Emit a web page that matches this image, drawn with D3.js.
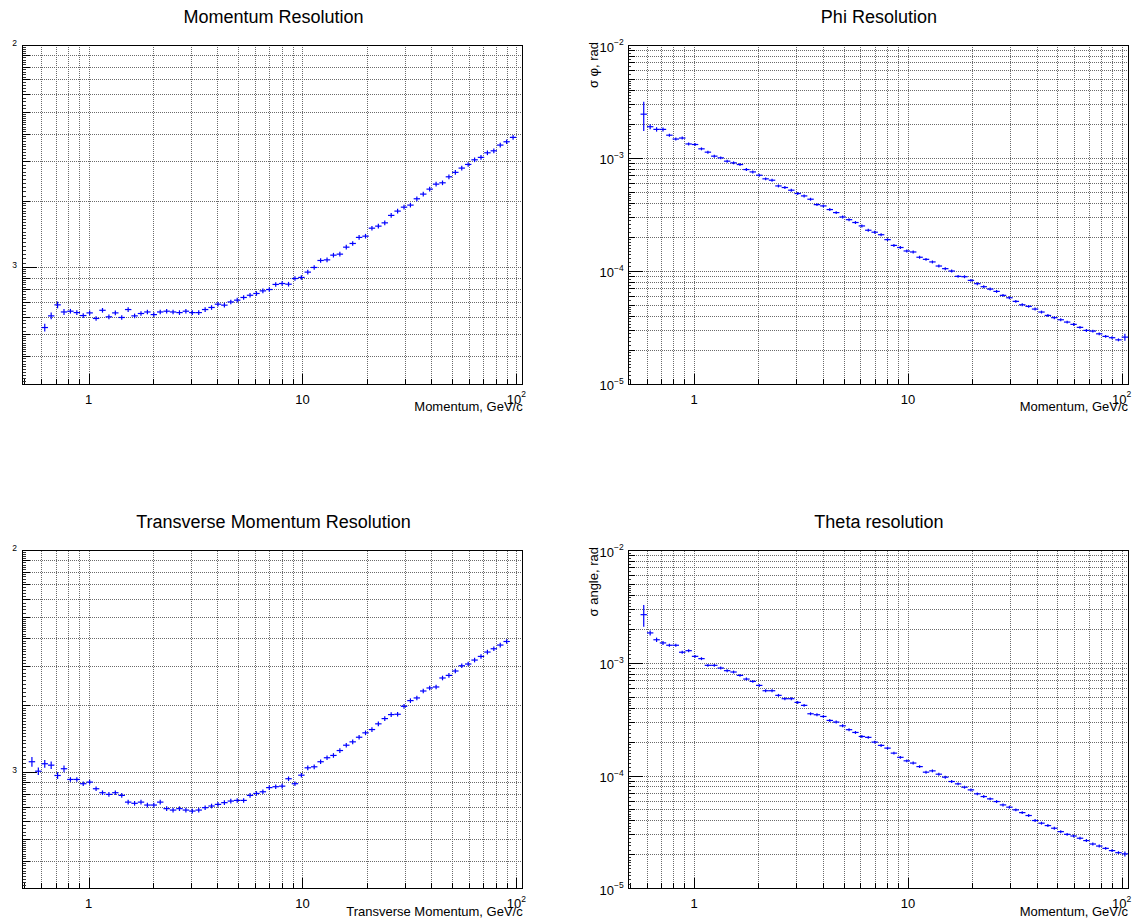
<!DOCTYPE html>
<html>
<head>
<meta charset="utf-8">
<script src="https://cdn.jsdelivr.net/npm/d3@7"></script>
<style>
  html, body { margin: 0; padding: 0; background: #ffffff; }
  svg { display: block; }
  text { font-family: "Liberation Sans", Arial, Helvetica, sans-serif; fill: #000; }
</style>
</head>
<body>
<svg id="canvas" width="1136" height="923"></svg>
<script>
// ---------------- binning (log-spaced histogram bins) ----------------
const nBins = 78;
const binLo = 0.4891;
const binHi = 107.15;

// ---------------- titles / labels ----------------
const titles = ["Momentum Resolution", "Phi Resolution", "Transverse Momentum Resolution", "Theta resolution"];
const xTitles = ["Momentum, GeV/c", "Momentum, GeV/c", "Transverse Momentum, GeV/c", "Momentum, GeV/c"];
const yTitles = [null, "\u03c3 \u03c6, rad", null, "\u03c3 angle, rad"];
const xTickLabels = [
  { v: 1, base: "1", sup: "" },
  { v: 10, base: "10", sup: "" },
  { v: 100, base: "10", sup: "2" }
];
const yTickLabelsLeft = [ { v: 1e-2, sup: "2" }, { v: 1e-3, sup: "3" } ];
const yTickLabelsRight = [
  { v: 1e-2, base: "10", sup: "\u22122" },
  { v: 1e-3, base: "10", sup: "\u22123" },
  { v: 1e-4, base: "10", sup: "\u22124" },
  { v: 1e-5, base: "10", sup: "\u22125" }
];

// ---------------- data: Momentum Resolution (first filled bin = 3) ----------------
const momFirstBin = 3;
const momRes = [
  5.37e-4, 6.06e-4, 6.79e-4, 6.31e-4, 6.36e-4, 6.27e-4, 6.08e-4, 6.25e-4, 5.90e-4, 6.42e-4,
  6.00e-4, 6.25e-4, 5.96e-4, 6.47e-4, 6.06e-4, 6.21e-4, 6.31e-4, 6.14e-4, 6.31e-4, 6.36e-4,
  6.31e-4, 6.27e-4, 6.36e-4, 6.27e-4, 6.27e-4, 6.47e-4, 6.61e-4, 6.84e-4, 6.77e-4, 7.00e-4,
  7.13e-4, 7.33e-4, 7.50e-4, 7.64e-4, 7.85e-4, 7.96e-4, 8.39e-4, 8.47e-4, 8.41e-4, 8.92e-4,
  9.02e-4, 9.53e-4, 1.000e-3, 1.075e-3, 1.082e-3, 1.136e-3, 1.148e-3, 1.234e-3, 1.282e-3, 1.365e-3,
  1.383e-3, 1.502e-3, 1.534e-3, 1.587e-3, 1.714e-3, 1.792e-3, 1.867e-3, 1.907e-3, 2.036e-3, 2.137e-3,
  2.250e-3, 2.369e-3, 2.402e-3, 2.556e-3, 2.676e-3, 2.797e-3, 2.905e-3, 3.048e-3, 3.125e-3, 3.277e-3,
  3.345e-3, 3.549e-3, 3.673e-3, 3.844e-3
];
const momErrLead = [0.04, 0.035, 0.035, 0.03];
const momErrRest = 0.024;
const momErrTail = [];

// ---------------- data: Phi Resolution (first filled bin = 2) ----------------
const phiFirstBin = 2;
const phiRes = [
  2.44e-3, 1.89e-3, 1.79e-3, 1.79e-3, 1.59e-3, 1.47e-3, 1.50e-3, 1.33e-3, 1.315e-3, 1.204e-3,
  1.125e-3, 1.037e-3, 1.002e-3, 9.36e-4, 9.05e-4, 8.74e-4, 7.89e-4, 7.52e-4, 7.03e-4, 6.53e-4,
  6.35e-4, 5.65e-4, 5.47e-4, 5.18e-4, 4.84e-4, 4.61e-4, 4.31e-4, 3.86e-4, 3.76e-4, 3.49e-4,
  3.28e-4, 3.00e-4, 2.84e-4, 2.68e-4, 2.50e-4, 2.29e-4, 2.20e-4, 2.09e-4, 1.89e-4, 1.68e-4,
  1.61e-4, 1.50e-4, 1.47e-4, 1.32e-4, 1.265e-4, 1.20e-4, 1.104e-4, 1.046e-4, 9.97e-5, 8.94e-5,
  8.88e-5, 8.24e-5, 7.70e-5, 7.24e-5, 6.90e-5, 6.58e-5, 6.07e-5, 5.78e-5, 5.37e-5, 5.01e-5,
  4.85e-5, 4.59e-5, 4.32e-5, 4.03e-5, 3.85e-5, 3.69e-5, 3.52e-5, 3.36e-5, 3.16e-5, 2.97e-5,
  2.93e-5, 2.77e-5, 2.63e-5, 2.56e-5, 2.45e-5, 2.59e-5
];
const phiErrLead = [0.29, 0.05, 0.045, 0.04];
const phiErrRest = 0.03;
const phiErrTail = [0.07];

// ---------------- data: Transverse Momentum Resolution (first filled bin = 1) ----------------
const ptFirstBin = 1;
const ptRes = [
  1.114e-3, 1.010e-3, 1.091e-3, 1.075e-3, 9.66e-4, 1.036e-3, 9.27e-4, 9.27e-4, 8.87e-4, 9.02e-4,
  8.42e-4, 8.08e-4, 7.94e-4, 8.08e-4, 7.86e-4, 7.33e-4, 7.24e-4, 7.33e-4, 7.11e-4, 7.11e-4,
  7.33e-4, 6.85e-4, 6.75e-4, 6.85e-4, 6.75e-4, 6.68e-4, 6.75e-4, 6.92e-4, 7.04e-4, 7.16e-4,
  7.29e-4, 7.41e-4, 7.46e-4, 7.46e-4, 7.86e-4, 8.02e-4, 8.16e-4, 8.52e-4, 8.60e-4, 8.65e-4,
  9.34e-4, 8.87e-4, 9.69e-4, 1.046e-3, 1.057e-3, 1.114e-3, 1.161e-3, 1.189e-3, 1.251e-3, 1.322e-3,
  1.369e-3, 1.436e-3, 1.503e-3, 1.555e-3, 1.650e-3, 1.742e-3, 1.816e-3, 1.822e-3, 1.979e-3, 2.099e-3,
  2.158e-3, 2.319e-3, 2.393e-3, 2.418e-3, 2.654e-3, 2.726e-3, 2.853e-3, 3.013e-3, 3.067e-3, 3.196e-3,
  3.318e-3, 3.472e-3, 3.593e-3, 3.733e-3, 3.874e-3
];
const ptErrLead = [0.05, 0.04, 0.04, 0.04, 0.035, 0.035];
const ptErrRest = 0.024;
const ptErrTail = [];

// ---------------- data: Theta resolution (first filled bin = 2) ----------------
const thetaFirstBin = 2;
const thetaRes = [
  2.67e-3, 1.84e-3, 1.60e-3, 1.50e-3, 1.43e-3, 1.43e-3, 1.24e-3, 1.28e-3, 1.14e-3, 1.088e-3,
  9.49e-4, 9.49e-4, 8.98e-4, 8.51e-4, 8.28e-4, 7.73e-4, 7.17e-4, 6.84e-4, 6.30e-4, 5.65e-4,
  5.65e-4, 5.14e-4, 4.80e-4, 4.80e-4, 4.45e-4, 4.19e-4, 3.53e-4, 3.46e-4, 3.34e-4, 3.08e-4,
  2.98e-4, 2.76e-4, 2.55e-4, 2.41e-4, 2.22e-4, 2.18e-4, 1.98e-4, 1.85e-4, 1.75e-4, 1.58e-4,
  1.45e-4, 1.35e-4, 1.29e-4, 1.20e-4, 1.071e-4, 1.10e-4, 1.028e-4, 9.67e-5, 8.85e-5, 8.44e-5,
  7.88e-5, 7.46e-5, 6.88e-5, 6.51e-5, 6.21e-5, 5.88e-5, 5.49e-5, 5.24e-5, 4.96e-5, 4.69e-5,
  4.42e-5, 3.99e-5, 3.78e-5, 3.60e-5, 3.41e-5, 3.18e-5, 3.01e-5, 2.91e-5, 2.78e-5, 2.65e-5,
  2.47e-5, 2.37e-5, 2.26e-5, 2.16e-5, 2.07e-5, 2.02e-5
];
const thetaErrLead = [0.22, 0.05, 0.045, 0.04];
const thetaErrRest = 0.03;
const thetaErrTail = [0.05];

// ---------------- layout ----------------
const svg = d3.select("#canvas");
const lgLo = Math.log10(binLo), lgHi = Math.log10(binHi);
const edges = d3.range(nBins + 1).map(i => Math.pow(10, lgLo + (lgHi - lgLo) * i / nBins));

const panels = [
  { box: [22.3, 45, 522.7, 383.8], yDom: [3e-4, 1e-2], side: "L", ti: 0,
    vals: momRes, first: momFirstBin, eLead: momErrLead, eRest: momErrRest, eTail: momErrTail },
  { box: [627.7, 45, 1128.1, 383.8], yDom: [1e-5, 1e-2], side: "R", ti: 1,
    vals: phiRes, first: phiFirstBin, eLead: phiErrLead, eRest: phiErrRest, eTail: phiErrTail },
  { box: [22.3, 550, 522.7, 888.3], yDom: [3e-4, 1e-2], side: "L", ti: 2,
    vals: ptRes, first: ptFirstBin, eLead: ptErrLead, eRest: ptErrRest, eTail: ptErrTail },
  { box: [627.7, 550, 1128.1, 888.3], yDom: [1e-5, 1e-2], side: "R", ti: 3,
    vals: thetaRes, first: thetaFirstBin, eLead: thetaErrLead, eRest: thetaErrRest, eTail: thetaErrTail }
];

function logTicks(dom, mants) {
  const out = [];
  const d0 = Math.floor(Math.log10(dom[0])) - 1, d1 = Math.ceil(Math.log10(dom[1])) + 1;
  for (let d = d0; d <= d1; d++) {
    mants.forEach(m => {
      const v = +(m * Math.pow(10, d)).toPrecision(8);
      if (v >= dom[0] * 0.9999 && v <= dom[1] * 1.0001) out.push(v);
    });
  }
  return out;
}
function tinyMantissas(stepA, stepB, stepC) {
  const m = [];
  for (let v = 1 + stepA; v < 2 - 1e-9; v += stepA) m.push(+v.toFixed(3));
  for (let v = 2 + stepB; v < 5 - 1e-9; v += stepB) m.push(+v.toFixed(3));
  for (let v = 5 + stepC; v < 10 - 1e-9; v += stepC) m.push(+v.toFixed(3));
  return m.filter(v => Math.abs(v - Math.round(v)) > 1e-6);
}

function styleAxis(g, color, dash) {
  g.select(".domain").remove();
  g.selectAll(".tick line").attr("stroke", color).attr("stroke-width", 1)
    .attr("shape-rendering", "crispEdges");
  if (dash) g.selectAll(".tick line").attr("stroke-dasharray", dash);
  g.selectAll(".tick text").remove();
}

panels.forEach(p => {
  const [x0, y0, x1, y1] = p.box;
  const w = x1 - x0, h = y1 - y0;
  const x = d3.scaleLog().domain([binLo, binHi]).range([x0, x1]);
  const y = d3.scaleLog().domain(p.yDom).range([y1, y0]);
  const g = svg.append("g");

  const xMajor = logTicks([binLo, binHi], [1]);
  const xMinor = logTicks([binLo, binHi], [2, 3, 4, 5, 6, 7, 8, 9]);
  const yMajor = logTicks(p.yDom, [1]);
  const yMinor = logTicks(p.yDom, [2, 3, 4, 5, 6, 7, 8, 9]);
  const yTiny = p.side === "L" ? logTicks(p.yDom, tinyMantissas(0.05, 0.1, 0.2))
                               : logTicks(p.yDom, tinyMantissas(0.1, 0.2, 0.5));

  // grid (dotted)
  const gridX = xMajor.concat(xMinor).filter(v => x(v) > x0 + 3 && x(v) < x1 - 3);
  const gridY = yMajor.concat(yMinor).filter(v => y(v) > y0 + 2 && y(v) < y1 - 2);
  g.append("g").attr("transform", `translate(0,${y1})`)
    .call(d3.axisBottom(x).tickValues(gridX).tickSize(-h).tickFormat(""))
    .call(s => styleAxis(s, "#6a6a6a", "1,1"));
  g.append("g").attr("transform", `translate(${x0},0)`)
    .call(d3.axisLeft(y).tickValues(gridY).tickSize(-w).tickFormat(""))
    .call(s => styleAxis(s, "#6a6a6a", "1,1"));

  // ticks
  g.append("g").attr("transform", `translate(0,${y1})`)
    .call(d3.axisBottom(x).tickValues(xMajor).tickSize(-10).tickFormat(""))
    .call(s => styleAxis(s, "#000"));
  g.append("g").attr("transform", `translate(0,${y1})`)
    .call(d3.axisBottom(x).tickValues(xMinor).tickSize(-5).tickFormat(""))
    .call(s => styleAxis(s, "#000"));
  g.append("g").attr("transform", `translate(${x0},0)`)
    .call(d3.axisLeft(y).tickValues(yMajor).tickSize(-15).tickFormat(""))
    .call(s => styleAxis(s, "#000"));
  g.append("g").attr("transform", `translate(${x0},0)`)
    .call(d3.axisLeft(y).tickValues(yMinor).tickSize(-7.5).tickFormat(""))
    .call(s => styleAxis(s, "#000"));
  g.append("g").attr("transform", `translate(${x0},0)`)
    .call(d3.axisLeft(y).tickValues(yTiny).tickSize(-3.5).tickFormat(""))
    .call(s => styleAxis(s, "#333"));

  // data: bin-width horizontal bars + vertical error bars
  const pts = p.vals.map((v, i) => {
    const k = p.first + i;
    let rel = i < p.eLead.length ? p.eLead[i] : p.eRest;
    const fromEnd = p.vals.length - 1 - i;
    if (fromEnd < p.eTail.length) rel = p.eTail[p.eTail.length - 1 - fromEnd];
    return { lo: edges[k], hi: edges[k + 1], c: Math.sqrt(edges[k] * edges[k + 1]), v: v, e: v * rel };
  });
  const dg = g.append("g").attr("stroke", "#0000ff").attr("stroke-width", 1.2).attr("fill", "none");
  dg.selectAll("line.h").data(pts).join("line").attr("class", "h")
    .attr("x1", d => x(d.lo)).attr("x2", d => x(d.hi))
    .attr("y1", d => y(d.v)).attr("y2", d => y(d.v));
  dg.selectAll("line.v").data(pts).join("line").attr("class", "v")
    .attr("x1", d => x(d.c)).attr("x2", d => x(d.c))
    .attr("y1", d => y(d.v + d.e)).attr("y2", d => y(Math.max(d.v - d.e, p.yDom[0])));

  // frame
  g.append("rect").attr("x", Math.round(x0) + 0.5).attr("y", Math.round(y0) + 0.5)
    .attr("width", Math.round(w)).attr("height", Math.round(h))
    .attr("fill", "none").attr("stroke", "#000").attr("stroke-width", 1)
    .attr("shape-rendering", "crispEdges");

  // title
  g.append("text").attr("x", (x0 + x1) / 2 + 1).attr("y", y0 - 22)
    .attr("text-anchor", "middle").attr("font-size", 18).text(titles[p.ti]);

  // x tick labels
  xTickLabels.forEach(t => {
    const tx = g.append("text").attr("x", x(t.v)).attr("y", y1 + 19.7)
      .attr("text-anchor", "middle").attr("font-size", 13);
    tx.append("tspan").text(t.base);
    if (t.sup) tx.append("tspan").attr("font-size", 8.5).attr("dy", -6.5).text(t.sup);
  });

  // x title
  g.append("text").attr("x", x1).attr("y", y1 + 27.5)
    .attr("text-anchor", "end").attr("font-size", 13).text(xTitles[p.ti]);

  // y tick labels
  if (p.side === "L") {
    yTickLabelsLeft.forEach(t => {
      g.append("text").attr("x", 14.5).attr("y", y(t.v) + 0.5)
        .attr("text-anchor", "middle").attr("font-size", 8.5).text(t.sup);
    });
  } else {
    yTickLabelsRight.forEach(t => {
      const tx = g.append("text").attr("x", x0 - 4).attr("y", y(t.v) + 6.5)
        .attr("text-anchor", "end").attr("font-size", 13);
      tx.append("tspan").text(t.base);
      tx.append("tspan").attr("font-size", 8.5).attr("dy", -6.5).text(t.sup);
    });
  }

  // y title
  if (yTitles[p.ti]) {
    g.append("text").attr("transform", `translate(${x0 - 30},${y0 - 3}) rotate(-90)`)
      .attr("text-anchor", "end").attr("font-size", 13).text(yTitles[p.ti]);
  }
});
</script>
</body>
</html>
